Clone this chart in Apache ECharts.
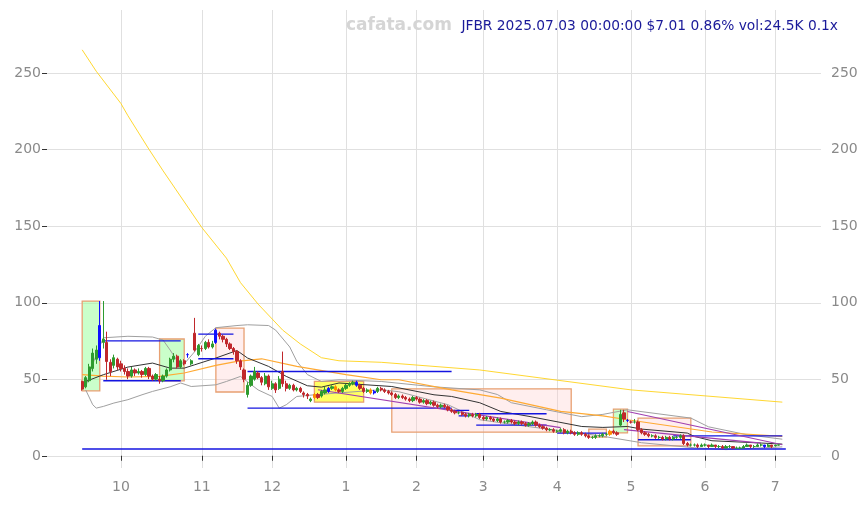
<!DOCTYPE html>
<html><head><meta charset="utf-8">
<script src="https://cdn.jsdelivr.net/npm/echarts@6/dist/echarts.min.js"></script>
<style>html,body{margin:0;padding:0;background:#fff}#c{width:867px;height:505px}</style>
</head><body><div id="c"></div>
<script>
// ---- data ----
const firstDay = '2024-09-16';
const lastDay = '2025-07-03';
const holidays = ['2024-11-28','2024-12-25','2025-01-01','2025-01-09','2025-01-20','2025-02-17','2025-04-18','2025-05-26','2025-06-19'];

// candle OHLC [open, close, low, high]
const candles = [
[48.5,43.5,42.5,49],[45,51,44,52],[49,58,48,60],[57,67,55,70],[63,69,60,72],[64,85,62,101],[74,76,70,101],
[74,61.5,49.6,81],[61,55,52,63],[59,64,57,66],[63,58,56,64],[60,57,55,62],[57,55,53,59],[55,52,50,57],[52,56,51,58],[56,54,52,57],
[54,55,53,57],[55,53,51,56],[53,57,52,58],[57,52,50,58],[52,50,49,53],[50,53,49,54],
[50,49,47,52],[49,52,48,53],[52,56,51,57],[56,63,55,64],[63,65,61,67],[65,58,57,66],[58,62,57,63],
[62,60,59,63],[66,66,64,67],[60,62,59,63],[80,69,68,90],
[66,72,65,73],[70,70,68,72],[70,74,69,75],[74,71,70,76],[71,73,70,75],
[74,82,73,83],[80,78,76,81],[78,76,74,79],[76,73,71,77],[73,70,69,74],[70,68,66,71],[68,62,60,69],[62,58,56,63],
[56,50,48,57],[40,46,38,48],[46,52,45,53],[50,55,49,58],[54,51,50,55],[51,48,46,52],[47,52,46,54],
[52,45,43,53],[44,47,43,49],[47,43,41,48],[44,50,43,52],[55,47,45,68],[47,44,42,49],[44,46,43,47],
[46,43,42,47],[43,44,42,45],[44,42,41,45],[41,40,38,42],[40,39,37,41],
[36,37,35,38],[38,40,37,41],[40,38,37,41],[39,42,38,43],[41,43,40,45],[42,44,41,45],[44,45,43,46],[45,43,42,46],
[43,42,41,44],[42,44,41,45],[44,46,43,47],[46,47,45,48],[47,48,46,49],[48,46,45,49],
[46,44,43,47],[44,42,41,45],[42,43,41,44],[43,41,40,44],[41,42,40,43],[42,44,41,45],[44,43,42,45],[43,42,41,44],
[42,41,40,43],[41,40,39,42],[40,38,37,41],[38,39,37,40],[39,38,37,40],[38,37,36,39],[37,36,35,38],[36,38,35,39],
[38,37,36,39],[37,35,34,38],[35,36,34,37],[36,34,33,37],[34,35,33,36],
[35,33,32,36],[33,32,31,34],[32,33,31,34],[33,32,31,34],[32,30,29,33],[30,29,28,31],[29,28,27,30],[28,28,27,29],[28,27,26,29],[27,26,25,28],
[26,27,25,28],[27,26,25,28],[26,27,25,28],[27,25,24,28],[25,24,23,26],[24,25,23,26],[25,24,23,26],[24,23,22,25],[23,24,22,25],[24,22,21,25],
[22,22,21,23],[22,23,21,24],[23,22,21,24],[22,21,20,23],[21,22,20,23],[22,21,20,23],[21,20,19,22],[20,21,19,22],[21,22,20,23],[22,20,19,23],[20,19,18,21],[19,18,17,20],[18,17,16,19],
[17,17,16,18],[17,16,15,18],[16,16,15,17],[16,17,15,18],[17,15,14,18],[15,16,14,17],[16,15,14,17],[15,14,13,16],[14,15,13,16],[15,14,13,16],[14,13,12,15],[13,12,11,14],[12,12,11,13],[12,13,11,14],[13,13,12,14],[13,14,12,15],[14,14,13,15],
[14,16,13,17],[16,15,14,17],[15,14,13,16],[20,27,19,30],[28,24,22,30],
[23,23,22,24],[22,22,21,23],[22,22,21,24],
[22,17,16,23],[17,15,14,18],[15,14,13,16],[14,13,12,15],[13,13,12,14],[13,12,11,14],[12,12,11,13],[12,11,10,13],[11,12,10,13],[12,11,10,13],[11,12,10,13],[12,12,11,13],[12,13,11,14],
[13,8,7,14],[8,7,6,9],
[7,7,6,8],[7,7,6,8],[7,6,5,8],[6,7,6,8],[7,7,6,8],[7,6,5,7],[6,7,6,8],[7,6,5,7],[6,6,5,7],[6,5,4.5,7],[5,6,5,7],[6,6,5,7],[6,5,4.5,6],[5,5,4.5,6],[5,5,4.5,6],[5,6,5,7],[6,7,6,8],[7,6,5,7],[6,6,5,7],[6,7,6,8],[7,7,6,8],[7,6,5,7],[6,7,6,8],[7,6,5,7],[6.5,6.95,6,7.2],[6.95,7.01,6.8,7.2]
];
const blueCandles = [5, 30, 38, 70, 78, 83, 155, 194];
const orangeCandles = [66, 72, 82, 150];

// overlay lines: [candle index, value]
const yellowLine = [[0,265],[4.2,251],[10.7,230],[12.7,222],[18.7,200],[23,186],[33.5,149],[40.6,129],[45.4,113],[49.7,99],[57.1,82],[61.9,73],[68.4,64],[73.3,62],[84.6,61],[113.1,56],[155.7,43],[199.2,35]];
const orangeLine = [[0,53],[5.9,52],[12.7,51.4],[22.1,51.8],[28.7,54],[38.2,59],[43.9,61.6],[50.5,63.3],[61,58.3],[75.2,52.9],[84.6,49.6],[90.3,49.6],[104.5,43],[118.8,37.6],[135.8,29],[148,26],[154.8,23.5],[178.5,15.5],[199.2,12.7]];
const blackLine = [[0.8,48.5],[5.9,52.9],[12.7,57.9],[20.1,60.5],[25,57.2],[28.7,57.2],[31.5,59.4],[38.2,63.8],[43.9,68.7],[46.8,63.8],[53.4,58.3],[58.1,51.8],[63.8,45.7],[67.6,44.8],[73.3,47.5],[87.5,45.2],[99.7,39.8],[104.5,38.7],[113.1,34.6],[118.8,28.9],[127.3,25.7],[141.5,19.1],[148,18.5],[154.8,19.1],[158.5,17.4],[171.9,14.8],[173.6,12.6],[179.3,9.8],[192.7,8.3],[199.2,7.6]];
const upperBand = [[0.8,45],[3,60],[5.9,77],[12.7,78],[20.1,77.5],[23,75.5],[25,69],[26.5,62],[29,60],[31.5,68],[35,78],[38.2,83.6],[44,85],[46.8,85.5],[52.5,85],[55.4,82],[59.1,71],[61,61.7],[63.9,53],[67.6,48.5],[73.3,49.6],[84.6,48.5],[100,45],[113.1,43],[117.9,40],[122.4,34.6],[132.1,30],[141.5,25.5],[148,27],[154.8,30],[173.3,24.6],[177.6,18.9],[189,13.7],[199.2,10.8]];
const lowerBand = [[0.8,43],[2.6,33.3],[4,31.1],[5.9,32.2],[8.8,34.4],[12.7,36.6],[17.3,39.8],[20.1,42],[25,45],[27.8,47.5],[31.1,45.2],[37.7,46.3],[41,48.5],[45,51.8],[49.6,43],[54.3,38.7],[56.2,31.1],[58.1,33.3],[61,38.7],[65.6,39.8],[84.6,43.1],[90.3,41.8],[103.7,33.3],[113.1,23.5],[127.3,19],[137.8,15.7],[147.2,13.1],[158.5,8.5],[173.6,5.2],[183.3,4.0],[199.2,5.8]];
const blueSegments = [
  [-0.3,200.2,4.4],[5.5,28,75],[5.5,28.3,49],[32.9,42.9,79.4],[32.9,42.9,63.3],[46.8,105.1,55],[46.8,105.1,31.1],
  [105.1,110.2,29.6],[106.8,110.2,26],[112.1,132,27.4],[112.1,132,20],[134.9,148.6,14.8],[158.3,173.3,10.4],[168,199.1,13]
];
const purpleSegments = [
  [[67.1,43.1],[135.8,18.3]],
  [[155,28.9],[199.2,7.2]],
  [[153.8,17],[192.7,8.3]]
];
// boxes: [fromIndex, toIndex, low, high, kind]
const boxes = [
  [-0.3,4.9,42.4,101,'g'],[21.9,28.7,48.9,76.2,'g'],[37.8,45.8,41.6,83.3,'p'],[65.9,79.9,35,48.5,'y'],
  [88,139.1,15.4,43.7,'p'],[144,149.2,12.2,17.4,'p'],[151,155.1,14.9,30.5,'g'],[158.3,173.3,6.5,24.6,'p']
];
const titleText = 'JFBR 2025.07.03 00:00:00 $7.01 0.86% vol:24.5K 0.1x';
const watermark = 'cafata.com';
const padLeft = 10, padRight = 11;

// ---- build ----
function ymd(d){const m=d.getUTCMonth()+1, day=d.getUTCDate();return d.getUTCFullYear()+'-'+(m<10?'0':'')+m+'-'+(day<10?'0':'')+day;}
const dates = [];
for (let d = new Date(firstDay+'T00:00:00Z'); ymd(d) <= lastDay; d.setUTCDate(d.getUTCDate()+1)) {
  const wd = d.getUTCDay();
  if (wd === 0 || wd === 6) continue;
  if (holidays.includes(ymd(d))) continue;
  dates.push(ymd(d));
}
const cats = [];
for (let i=0;i<padLeft;i++) cats.push('pl'+i);
dates.forEach(d=>cats.push(d));
for (let i=0;i<padRight;i++) cats.push('pr'+i);
const isMonthStart = (idx)=>{
  const k = idx - padLeft;
  if (k<=0 || k>=dates.length) return false;
  return dates[k].slice(5,7) !== dates[k-1].slice(5,7);
};
const X = i => i + padLeft;

const UP='#2e9b2e', DOWN='#c0282c';
const candleData = candles.map((c,i)=>{
  const item = {value:[X(i), c[0], c[1], c[2], c[3]]};
  if (blueCandles.includes(i)) item.itemStyle={color:'#1010ff',color0:'#1010ff',borderColor:'#1010ff',borderColor0:'#1010ff'};
  if (orangeCandles.includes(i)) item.itemStyle={color:'#ff8c00',color0:'#ff8c00',borderColor:'#ff8c00',borderColor0:'#ff8c00'};
  return item;
});
const mapLine = arr => arr.map(p=>[X(p[0]), p[1]]);

const series = [];
series.push({
  type:'custom', xAxisIndex:0, yAxisIndex:0, silent:true, z:1,
  data: boxes.map(b=>[X(b[0]),X(b[1]),b[2],b[3],b[4]]),
  encode:{x:[0,1], y:[2,3]},
  renderItem:(params, api)=>{
    const p0 = api.coord([api.value(0), api.value(3)]);
    const p1 = api.coord([api.value(1), api.value(2)]);
    const kind = boxes[params.dataIndex][4];
    const fill = kind==='g' ? 'rgba(150,255,150,0.5)' : kind==='y' ? 'rgba(255,255,60,0.8)' : 'rgba(255,200,200,0.3)';
    return {type:'rect', shape:{x:p0[0], y:p0[1], width:p1[0]-p0[0], height:p1[1]-p0[1]},
      style:{fill:fill, stroke:'#e8a072', lineWidth:1.3}};
  }
});
const addLine = (data, color, width, z) => series.push({type:'line', data:mapLine(data), showSymbol:false, symbol:'none', silent:true, z:z||3,
  lineStyle:{color:color, width:width}, xAxisIndex:0, yAxisIndex:0, animation:false});
addLine(yellowLine,'#ffd21a',0.9);
addLine(upperBand,'#a0a0a0',1);
addLine(lowerBand,'#a0a0a0',1);
addLine(orangeLine,'#ffaa33',1.2);
addLine(blackLine,'#333333',1);
blueSegments.forEach(s=>addLine([[s[0],s[2]],[s[1],s[2]]],'#1414e0',1.4,4));
purpleSegments.forEach(s=>addLine(s,'#a040b0',1.2,4));
series.push({type:'candlestick', data:candleData, encode:{x:0,y:[1,2,3,4]}, barWidth:'78%', z:5,
  itemStyle:{color:UP, color0:DOWN, borderColor:UP, borderColor0:DOWN, borderWidth:1}, xAxisIndex:0, yAxisIndex:0});

const chart = echarts.init(document.getElementById('c'));
const labelFont = {color:'#8a8a8a', fontSize:14, fontFamily:'DejaVu Sans'};
chart.setOption({
  animation:false,
  backgroundColor:'#fff',
  title:[
    {text:titleText, right:24, top:14, textStyle:{color:'#1a1a99', fontSize:13.8, fontWeight:'normal', fontFamily:'DejaVu Sans'}},
    {text:watermark, left:341, top:12, textStyle:{color:'#d5d5d5', fontSize:17, fontWeight:'bold', fontFamily:'DejaVu Sans'}}
  ],
  grid:[
    {left:47, right:46, top:10, bottom:37},
    {left:47, right:46, top:73, bottom:49}
  ],
  xAxis:[
    {type:'category', gridIndex:0, data:cats, boundaryGap:false, offset:4,
     axisLine:{show:false},
     axisTick:{show:true, length:5, interval:(i)=>isMonthStart(i), lineStyle:{color:'#333'}},
     axisLabel:{interval:(i)=>isMonthStart(i), formatter:(v)=>String(parseInt(v.slice(5,7),10)), ...labelFont},
     splitLine:{show:true, interval:(i)=>isMonthStart(i), lineStyle:{color:'#e0e0e0'}}},
    {type:'value', gridIndex:1, show:false, min:0, max:1}
  ],
  yAxis:[
    {type:'value', gridIndex:0, min:-8, max:291, show:false},
    {type:'value', gridIndex:1, min:0, max:250, interval:50, position:'left',
     axisLine:{show:false}, axisTick:{show:true, length:5, lineStyle:{color:'#333'}},
     axisLabel:{...labelFont, margin:6}, splitLine:{show:true, lineStyle:{color:'#e0e0e0'}}},
    {type:'value', gridIndex:1, min:0, max:250, interval:50, position:'right',
     axisLine:{show:false}, axisTick:{show:false}, axisLabel:{...labelFont, margin:10}, splitLine:{show:false}}
  ],
  series: series
});
</script></body></html>
